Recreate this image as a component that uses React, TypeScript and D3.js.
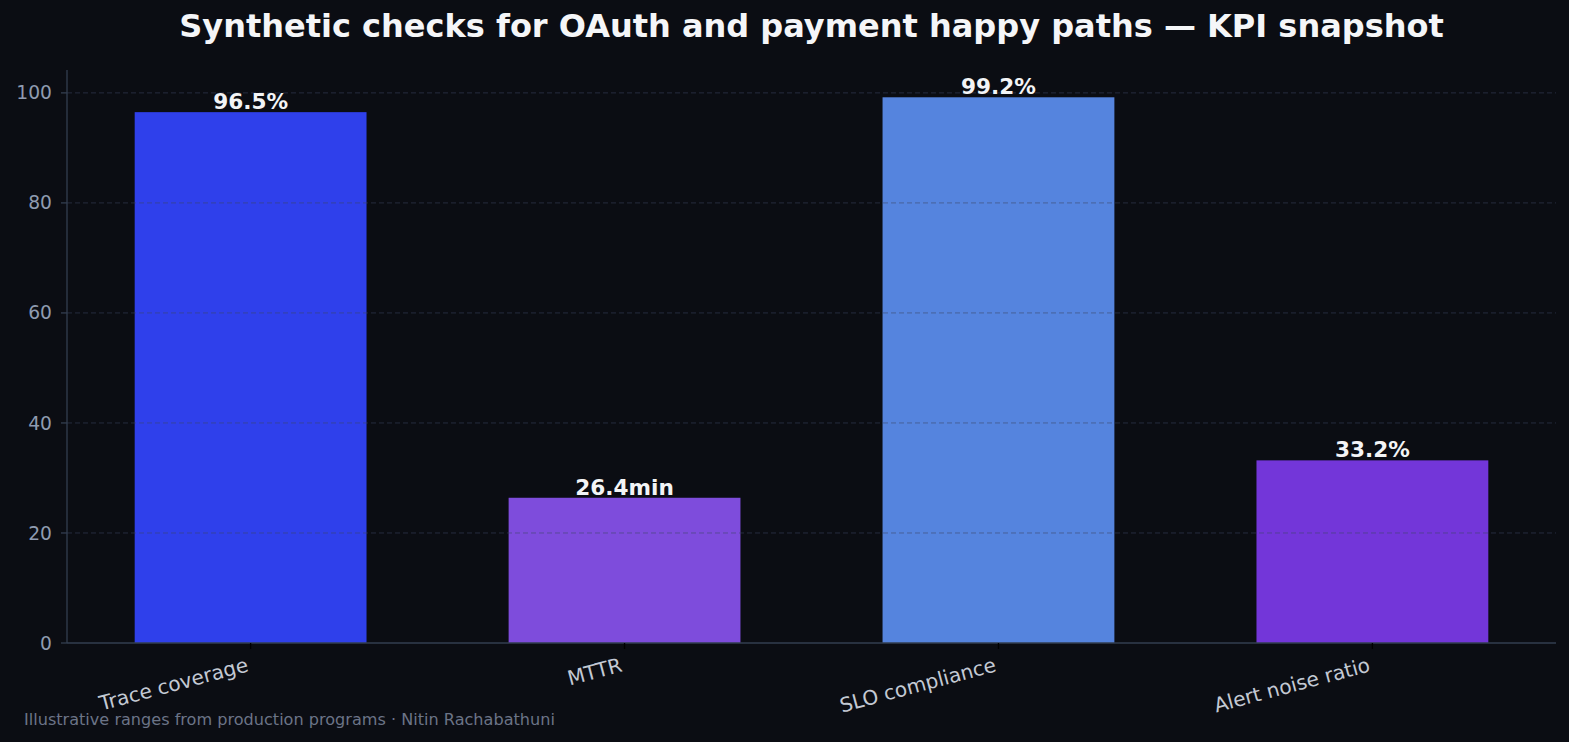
import * as React from "react";
import * as d3 from "d3";

// chart data
const categories = ["Trace coverage", "MTTR", "SLO compliance", "Alert noise ratio"];
const values = [96.5, 26.4, 99.2, 33.2];
const valueLabels = ["96.5%", "26.4min", "99.2%", "33.2%"];
const barColors = ["#2f40eb", "#7e4cdc", "#5584de", "#7336d9"];
const yTicks = [0, 20, 40, 60, 80, 100];

const W = 1569;
const H = 742;
const margin = { left: 67, right: 13, top: 70, bottom: 99 };
const FONT = "DejaVu Sans, sans-serif";
const YTICK_FS = 18.7;
const XTICK_FS = 20.1;

export default function App() {
  const x0 = margin.left;
  const x1 = W - margin.right;
  const y0 = H - margin.bottom;
  const y1 = margin.top;

  const ymax = d3.max(values)! * 1.05;
  const y = d3.scaleLinear().domain([0, ymax]).range([y0, y1]);
  // categorical positions, 5% margin like matplotlib
  const bw = 0.62;
  const lo = -bw / 2, hi = categories.length - 1 + bw / 2;
  const pad = (hi - lo) * 0.05;
  const x = d3.scaleLinear().domain([lo - pad, hi + pad]).range([x0, x1]);

  const rot = 15 * Math.PI / 180;
  const boxH = 1.164 * XTICK_FS; // ascent + descent
  const labelTop = y0 + 10;

  return (
    <svg width={W} height={H} style={{ position: "absolute", left: 0, top: 0, background: "#0b0d13" }}>
      <rect x={0} y={0} width={W} height={H} fill="#0b0d13" />
      <text x={(x0 + x1) / 2} y={37} textAnchor="middle" fill="#f5f6f8"
        style={{ fontFamily: FONT, fontSize: 32, fontWeight: "bold" }}>
        Synthetic checks for OAuth and payment happy paths — KPI snapshot
      </text>

      {/* bars */}
      <g>
        {values.map((v, i) => (
          <rect key={i}
            x={x(i - bw / 2)}
            y={y(v)}
            width={x(i + bw / 2) - x(i - bw / 2)}
            height={y(0) - y(v)}
            fill={barColors[i]} />
        ))}
      </g>

      {/* grid drawn over bars */}
      <g>
        {yTicks.filter(t => t > 0).map(t => (
          <line key={t} x1={x0} x2={x1} y1={y(t)} y2={y(t)}
            stroke="#3a4660" strokeOpacity={0.55} strokeWidth={1} strokeDasharray="5,3" />
        ))}
      </g>

      {/* value labels */}
      <g>
        {values.map((v, i) => (
          <text key={i} x={x(i)} y={y(v) - 3} textAnchor="middle" fill="#f3f4f6"
            style={{ fontFamily: FONT, fontSize: 21.6, fontWeight: "bold" }}>
            {valueLabels[i]}
          </text>
        ))}
      </g>

      {/* spines */}
      <line x1={x0} x2={x0} y1={y1} y2={y0} stroke="#333e50" strokeWidth={1.3} />
      <line x1={x0} x2={x1} y1={y0} y2={y0} stroke="#333e50" strokeWidth={1.3} />

      {/* y ticks */}
      <g>
        {yTicks.map(t => (
          <g key={t} transform={`translate(${x0},${y(t)})`}>
            <line x1={-6} x2={0} stroke="#333e50" strokeWidth={1.3} />
            <text x={-15} dy="0.35em" textAnchor="end" fill="#8f9bb0"
              style={{ fontFamily: FONT, fontSize: YTICK_FS }}>{t}</text>
          </g>
        ))}
      </g>

      {/* x ticks */}
      <g>
        {categories.map((c, i) => (
          <g key={c} transform={`translate(${x(i)},${y0})`}>
            <line y1={0} y2={6} stroke="#000" strokeWidth={1.3} />
            <g transform={`translate(0,${labelTop - y0 + boxH * Math.cos(rot)}) rotate(-15)`}>
              <text textAnchor="end" y={-0.236 * XTICK_FS} fill="#c3c9d3"
                style={{ fontFamily: FONT, fontSize: XTICK_FS }}>{c}</text>
            </g>
          </g>
        ))}
      </g>

      <text x={24} y={725} fill="#6b7487" style={{ fontFamily: FONT, fontSize: 16.1 }}>
        Illustrative ranges from production programs · Nitin Rachabathuni
      </text>
    </svg>
  );
}
